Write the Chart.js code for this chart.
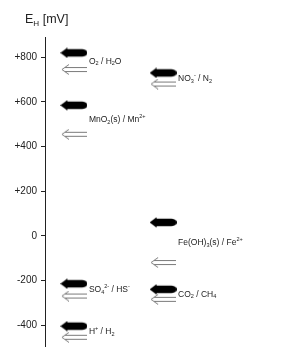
<!DOCTYPE html>
<html>
<head>
<meta charset="utf-8">
<script src="https://cdn.jsdelivr.net/npm/chart.js@4"></script>
<style>
  html, body { margin: 0; padding: 0; background: #fff; overflow: hidden; }
  canvas { display: block; }
</style>
</head>
<body>
<canvas id="c" width="293" height="353"></canvas>
<script>
// ---- data ----
const couples = [
  'O{_2} / H{_2}O',
  'MnO{_2}(s) / Mn{^2+}',
  'NO{_3}{^-} / N{_2}',
  'Fe(OH){_3}(s) / Fe{^2+}',
  'SO{_4}{^2-} / HS{^-}',
  'CO{_2} / CH{_4}',
  'H{^+} / H{_2}'
];
const column = [1, 1, 2, 2, 1, 2, 1];
const filledE = [820, 585, 730, 60, -215, -240, -405];
const hollowE = [745, 455, 680, -120, -270, -285, -455];
const tickValues = [800, 600, 400, 200, 0, -200, -400];
const tickLabels = ['+800', '+600', '+400', '+200', '0', '-200', '-400'];

// ---- arrow glyphs ----
function makeFilledArrow() {
  const c = document.createElement('canvas');
  c.width = 27; c.height = 11;
  const g = c.getContext('2d');
  g.fillStyle = '#000';
  g.beginPath();
  g.moveTo(0, 5.5);
  g.lineTo(7, 0.3);
  g.lineTo(7, 1.8);
  g.lineTo(22, 1.8);
  g.quadraticCurveTo(27, 2.2, 27, 5.5);
  g.quadraticCurveTo(27, 8.8, 22, 9.2);
  g.lineTo(7, 9.2);
  g.lineTo(7, 10.7);
  g.closePath();
  g.fill();
  return c;
}
function makeHollowArrow() {
  const c = document.createElement('canvas');
  c.width = 26; c.height = 11;
  const g = c.getContext('2d');
  g.strokeStyle = '#7a7a7a';
  g.lineWidth = 1;
  g.beginPath();
  g.moveTo(4, 3.5); g.lineTo(26, 3.5);
  g.moveTo(4, 7.5); g.lineTo(26, 7.5);
  g.moveTo(8, 0.5); g.lineTo(1, 5.5); g.lineTo(8, 10.5);
  g.stroke();
  return c;
}
const filledArrow = makeFilledArrow();
const hollowArrow = makeHollowArrow();

// ---- rich text helper ----
function drawRich(ctx, str, x, y, size, color) {
  const parts = str.split(/(\{[_^][^}]*\})/).filter(s => s.length);
  ctx.save();
  ctx.fillStyle = color;
  ctx.textBaseline = 'middle';
  ctx.textAlign = 'left';
  let cx = x;
  for (const p of parts) {
    let txt = p, fs = size, dy = 0;
    if (p.startsWith('{_')) { txt = p.slice(2, -1); fs = size * 0.65; dy = size * 0.3; }
    else if (p.startsWith('{^')) { txt = p.slice(2, -1); fs = size * 0.65; dy = -size * 0.35; }
    ctx.font = fs + 'px "Liberation Sans", Arial, sans-serif';
    ctx.fillText(txt, cx, y + dy);
    cx += ctx.measureText(txt).width;
  }
  ctx.restore();
}

const labelPlugin = {
  id: 'coupleLabels',
  afterDatasetsDraw(chart) {
    const ctx = chart.ctx;
    const xs = chart.scales.x, ys = chart.scales.y;
    couples.forEach((name, i) => {
      const x = xs.getPixelForValue(column[i]) + 15;
      const y = (ys.getPixelForValue(filledE[i]) + ys.getPixelForValue(hollowE[i])) / 2;
      drawRich(ctx, name, x, y, 8.5, '#222');
    });
    // axis title
    drawRich(ctx, 'E{_H} [mV]', 25, 20, 12.5, '#222');
  }
};

new Chart(document.getElementById('c'), {
  type: 'scatter',
  data: {
    datasets: [
      {
        label: 'oxidised',
        data: filledE.map((v, i) => ({ x: column[i], y: v })),
        pointStyle: filledArrow,
        clip: false
      },
      {
        label: 'reduced',
        data: hollowE.map((v, i) => ({ x: column[i], y: v })),
        pointStyle: hollowArrow,
        clip: false
      }
    ]
  },
  options: {
    responsive: false,
    devicePixelRatio: 1,
    animation: false,
    layout: { padding: { top: 37.2, left: 0, right: 0, bottom: 0 } },
    plugins: { legend: { display: false }, tooltip: { enabled: false } },
    scales: {
      x: { type: 'linear', display: false, min: 0.676, max: 3.401 },
      y: {
        type: 'linear',
        min: -503, max: 890,
        afterFit(scale) {
          scale.width = 45;
          scale.paddingTop = 0;
          scale.paddingBottom = 0;
        },
        afterBuildTicks(scale) { scale.ticks = tickValues.map(v => ({ value: v })); },
        border: { display: true, color: '#222', width: 1 },
        grid: { drawOnChartArea: false, drawTicks: true, tickLength: 4, color: '#222' },
        ticks: {
          padding: 4,
          color: '#222',
          font: { size: 10, family: '"Liberation Sans", Arial, sans-serif' },
          callback: (v) => tickLabels[tickValues.indexOf(v)]
        }
      }
    }
  },
  plugins: [labelPlugin]
});
</script>
</body>
</html>
